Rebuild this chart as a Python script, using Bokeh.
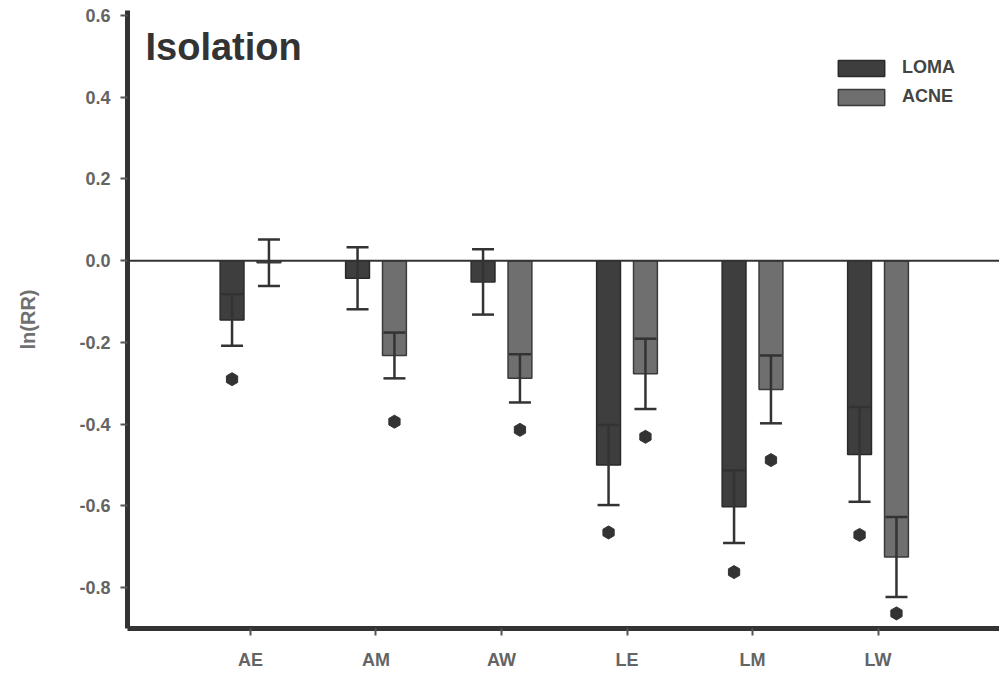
from bokeh.plotting import figure
from bokeh.models import (ColumnDataSource, Whisker, TeeHead, Span, Legend, LegendItem,
                          FixedTicker, Label, Range1d)
from bokeh.embed import file_html
from bokeh.resources import INLINE

# ---- data ----
groups = ["AE", "AM", "AW", "LE", "LM", "LW"]
loma_mean = [-0.145, -0.043, -0.052, -0.500, -0.602, -0.474]
loma_se = [0.063, 0.076, 0.080, 0.098, 0.089, 0.116]
acne_mean = [-0.005, -0.232, -0.288, -0.277, -0.315, -0.725]
acne_se = [0.057, 0.056, 0.059, 0.086, 0.083, 0.098]
# significance markers (None = no marker)
loma_sig = [-0.290, None, None, -0.665, -0.762, -0.671]
acne_sig = [None, -0.394, -0.414, -0.431, -0.488, -0.863]
y_ticks = [-0.8, -0.6, -0.4, -0.2, 0.0, 0.2, 0.4, 0.6]

# ---- styling constants ----
OFF = 0.147
BW = 0.19
LOMA_C = "#3e3e3e"
ACNE_C = "#6f6f6f"
DARK = "#333333"
GRAY = "#646464"
FONT = "Liberation Sans"

idx = list(range(len(groups)))
loma_src = ColumnDataSource(dict(
    x=[i - OFF for i in idx], top=loma_mean,
    lo=[m - s for m, s in zip(loma_mean, loma_se)],
    hi=[m + s for m, s in zip(loma_mean, loma_se)]))
acne_src = ColumnDataSource(dict(
    x=[i + OFF for i in idx], top=acne_mean,
    lo=[m - s for m, s in zip(acne_mean, acne_se)],
    hi=[m + s for m, s in zip(acne_mean, acne_se)]))

sig_x, sig_y = [], []
for i, v in enumerate(loma_sig):
    if v is not None:
        sig_x.append(i - OFF); sig_y.append(v)
for i, v in enumerate(acne_sig):
    if v is not None:
        sig_x.append(i + OFF); sig_y.append(v)

p = figure(width=999, height=680, output_backend="svg", toolbar_location=None,
           x_range=Range1d(-0.98, 5.968), y_range=Range1d(-0.9, 0.612),
           min_border_left=127, min_border_right=0, min_border_top=10,
           min_border_bottom=52, background_fill_color="white",
           border_fill_color="white")
p.outline_line_color = None
p.xgrid.visible = False
p.ygrid.visible = False

zero = Span(location=0, dimension="width", line_color=DARK, line_width=2)
p.add_layout(zero)

r_loma = p.vbar(x="x", top="top", bottom=0, width=BW, source=loma_src,
                fill_color=LOMA_C, line_color="#2a2a2a", line_width=1.5)
r_acne = p.vbar(x="x", top="top", bottom=0, width=BW, source=acne_src,
                fill_color=ACNE_C, line_color="#3a3a3a", line_width=1.5)

for src in (loma_src, acne_src):
    w = Whisker(source=src, base="x", lower="lo", upper="hi",
                line_color=DARK, line_width=2.5, level="overlay",
                upper_head=TeeHead(size=22, line_color=DARK, line_width=2.5),
                lower_head=TeeHead(size=22, line_color=DARK, line_width=2.5))
    p.add_layout(w)

p.scatter(sig_x, sig_y, marker="hex", angle=0.5236, size=13,
          fill_color=DARK, line_color=DARK)

# axes
p.xaxis.ticker = FixedTicker(ticks=idx)
p.xaxis.major_label_overrides = {i: g for i, g in enumerate(groups)}
p.yaxis.ticker = FixedTicker(ticks=y_ticks)
p.yaxis.major_label_overrides = {t: f"{t:.1f}" for t in y_ticks}
for ax in (p.xaxis[0], p.yaxis[0]):
    ax.axis_line_width = 5
    ax.axis_line_color = DARK
    ax.major_tick_line_color = "#555555"
    ax.major_tick_line_width = 2
    ax.major_tick_in = 0
    ax.major_tick_out = 7
    ax.minor_tick_line_color = None
    ax.major_label_text_font = FONT
    ax.major_label_text_font_style = "bold"
    ax.major_label_text_color = GRAY
    ax.major_label_text_font_size = "18px"
p.yaxis.major_label_standoff = 10
p.xaxis.major_label_standoff = 14
p.yaxis.axis_label = "ln(RR)"
p.yaxis.axis_label_text_font = FONT
p.yaxis.axis_label_text_font_style = "bold"
p.yaxis.axis_label_text_font_size = "20px"
p.yaxis.axis_label_text_color = "#707070"
p.yaxis.axis_label_standoff = 37

# title inside plot
title = Label(x=18, y=582, x_units="screen", y_units="screen", text="Isolation",
              text_font=FONT, text_font_style="bold", text_font_size="38px",
              text_color=DARK, text_baseline="alphabetic")
p.add_layout(title)

legend = Legend(items=[LegendItem(label="LOMA", renderers=[r_loma]),
                       LegendItem(label="ACNE", renderers=[r_acne])],
                location=(705, 521), glyph_width=58, glyph_height=20,
                spacing=8, padding=0, margin=0, label_standoff=12,
                label_text_font=FONT, label_text_font_style="bold",
                label_text_font_size="18px", label_text_color="#444444",
                label_height=20,
                background_fill_alpha=0, border_line_alpha=0)
p.add_layout(legend)

open("out.html", "w").write(file_html(p, INLINE))
